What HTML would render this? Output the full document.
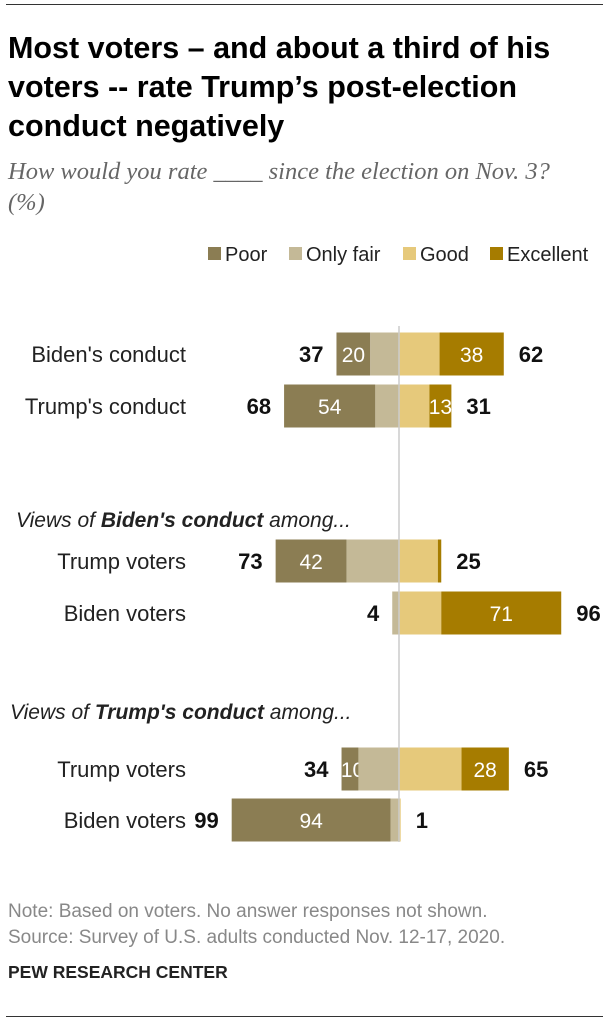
<!DOCTYPE html>
<html><head><meta charset="utf-8"><style>
body{margin:0;width:609px;height:1023px;background:#fff;font-family:"Liberation Sans",sans-serif;position:relative;overflow:hidden}
.a{position:absolute;white-space:nowrap}
</style></head><body>
<div class="a" style="left:6px;top:4px;width:597px;height:1px;background:#333"></div>
<div class="a" style="left:8px;top:29px;font-size:30.5px;font-weight:bold;line-height:39px;color:#000">Most voters – and about a third of his<br>voters -- rate Trump’s post-election<br>conduct negatively</div>
<div class="a" style="left:8px;top:156px;font-family:'Liberation Serif',serif;font-style:italic;font-size:24.5px;line-height:31px;color:#666">How would you rate ____ since the election on Nov. 3?<br>(%)</div>
<svg class="a" style="left:0;top:0" width="609" height="1023" id="svg"></svg>
<div class="a" style="left:8px;top:899px;font-size:19px;line-height:26px;color:#888">Note: Based on voters. No answer responses not shown.<br>Source: Survey of U.S. adults conducted Nov. 12-17, 2020.</div>
<div class="a" style="left:8px;top:962px;font-size:17.5px;font-weight:bold;color:#222">PEW RESEARCH CENTER</div>
<div class="a" style="left:6px;top:1016px;width:597px;height:1px;background:#333"></div>
<script>
const categories=["Biden's conduct","Trump's conduct","Trump voters","Biden voters","Trump voters","Biden voters"];
const poor=[20,54,42,0,10,94];
const onlyFair=[17,14,31,4,24,5];
const good=[24,18,23,25,37,1];
const excellent=[38,13,2,71,28,0];
const netNeg=[37,68,73,4,34,99];
const netPos=[62,31,25,96,65,1];
const showLabels=[[1,0,0,1],[1,0,0,1],[1,0,0,0],[0,0,0,1],[1,0,0,1],[1,0,0,0]];
const rowY=[354,406,561,613,769,820];
const cx=399, k=1.69, bh=43;
const colors=["#8b7d53","#c4b997","#e6c97b","#a67c00"];
const svg=document.getElementById('svg');
const NS="http://www.w3.org/2000/svg";
function x(v){return cx+v*k;}
function el(t,a,txt){const e=document.createElementNS(NS,t);for(const q in a)e.setAttribute(q,a[q]);if(txt!==undefined)e.textContent=txt;svg.appendChild(e);return e;}
const leg=["Poor","Only fair","Good","Excellent"];
const lxs=[208,289,403,490];
leg.forEach((n,i)=>{
 const r=el('rect',{x:lxs[i],y:247,width:13,height:13,fill:colors[i]});
 
 
 const t=el('text',{x:lxs[i]+17,y:261,'font-size':20,fill:'#222'},n);
 
 
});
[[520,"Biden's conduct"],[712,"Trump's conduct"]].forEach(([y,n],i)=>{
 const t=el('text',{x:i?10:16,y:y+7,'font-size':21,'font-style':'italic',fill:'#222'});
 
 
 t.innerHTML='Views of <tspan font-weight="bold">'+n+'</tspan> among...';
});
categories.forEach((c,i)=>{
 const y=rowY[i]-bh/2;
 let s=x(-(poor[i]+onlyFair[i]));
 const vals=[poor[i],onlyFair[i],good[i],excellent[i]];
 vals.forEach((v,j)=>{
  const w=v*k;
  if(v<=0) return;
  const r=el('rect',{x:s,y:y,width:w,height:bh,fill:colors[j]});
  
  
  if(showLabels[i][j]){
   const t=el('text',{x:s+Math.max(w/2,11),y:rowY[i]+8,'font-size':21,fill:'#fff','text-anchor':'middle'},v);
   
   
  }
  s+=w;
 });
 const t1=el('text',{x:x(-(poor[i]+onlyFair[i]))-13,y:rowY[i]+8,'font-size':22,'font-weight':'bold','text-anchor':'end',fill:'#111'},netNeg[i]);
 
 
 const t2=el('text',{x:x(good[i]+excellent[i])+15,y:rowY[i]+8,'font-size':22,'font-weight':'bold','text-anchor':'start',fill:'#111'},netPos[i]);
 
 
 const t3=el('text',{x:186,y:rowY[i]+8,'font-size':22,'text-anchor':'end',fill:'#222'},c);
 
 
});
const ln=el('line',{x1:cx,x2:cx,y1:326,y2:842,stroke:'#ccc','stroke-width':1.5});


</script>
</body></html>
